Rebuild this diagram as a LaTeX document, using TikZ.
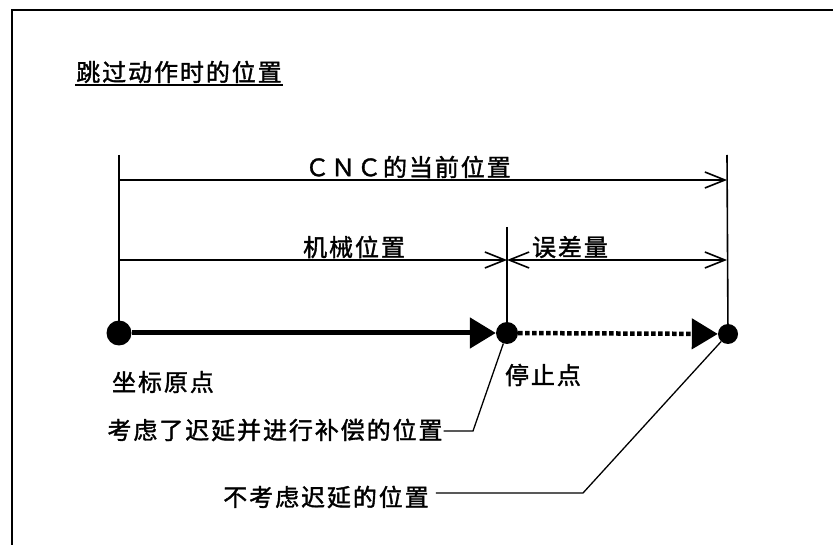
\documentclass[tikz,border=0pt]{standalone}
\usepackage{fontspec}
\setmainfont[LetterSpace=8,FakeBold=1.5]{Noto Sans CJK SC}
\usetikzlibrary{arrows.meta,positioning}

\begin{document}
\begin{tikzpicture}[x=1pt, y=-1pt,
    dot/.style={circle, fill=black, inner sep=0pt, minimum size=#1},
    lbl/.style={inner sep=1pt, font=\fontsize{24}{26}\selectfont},
    ext/.style={draw, line width=1.6pt},
    dim/.style={draw, line width=1.6pt},
    barb/.style={-{Straight Barb[length=20pt, width=16pt]}},
    barbs/.style={{Straight Barb[length=20pt, width=16pt]}-{Straight Barb[length=20pt, width=16pt]}},
    move/.style={draw, line width=5pt, -{Triangle[length=26pt, width=30pt]}},
    leader/.style={draw, line width=1.3pt}]

    \useasboundingbox (0,0) rectangle (833,545);
    % frame
    \draw [line width=2pt] (12,545) -- (12,10) -- (833,10);

    \node [lbl] (title) at (179,72) {跳过动作时的位置};
    \draw [line width=2pt] ([yshift=-1pt]title.south west) -- ([yshift=-1pt]title.south east);

    % points on the path
    \node [dot=25pt] (orig) at (119,333) {};
    \node [dot=22pt] (stop) at (507,333) {};
    \node [dot=20pt] (nodelay) at (728,334) {};

    \coordinate (origtop) at (119,155);
    \coordinate (stoptop) at (507,227);
    \coordinate (endtop) at (727,155);
    \draw [ext] (origtop) -- (orig.center);
    \draw [ext] (stoptop) -- (stop.center);
    \draw [ext] (endtop) -- (nodelay.center);

    % dimension lines
    \coordinate (cncL) at (119,180);
    \coordinate (cncR) at (727,180);
    \coordinate (machL) at (119,260);
    \coordinate (machR) at (507,260);
    \coordinate (errR) at (727,260);
    \draw [dim, barb] (cncL) -- (cncR);
    \draw [dim, barb] (machL) -- (machR);
    \draw [dim, barbs] (machR) -- (errR);

    \node [lbl] (cnc) at (408,167) {ＣＮＣ的当前位置};
    \node [lbl] (mach) at (354,247) {机械位置};
    \node [lbl] (err) at (570,247) {误差量};

    % movement
    \draw [move] (orig) -- (stop);
    \draw [move, line width=4.5pt, dash pattern=on 4.5pt off 2.5pt] (stop) -- (nodelay);

    \node [lbl] (origlbl) at (163,382) {坐标原点};
    \node [lbl] (stoplbl) at (543,375) {停止点};

    \node [lbl] (comp) at (275,430) {考虑了迟延并进行补偿的位置};
    \coordinate (compknee) at (473,431);
    \draw [leader] (compknee -| comp.east) -- (compknee) -- (stop);

    \node [lbl] (nd) at (326,497) {不考虑迟延的位置};
    \coordinate (ndknee) at (583,493);
    \draw [leader, shorten <=6pt] (ndknee -| nd.east) -- (ndknee) -- (nodelay);
\end{tikzpicture}
\end{document}
